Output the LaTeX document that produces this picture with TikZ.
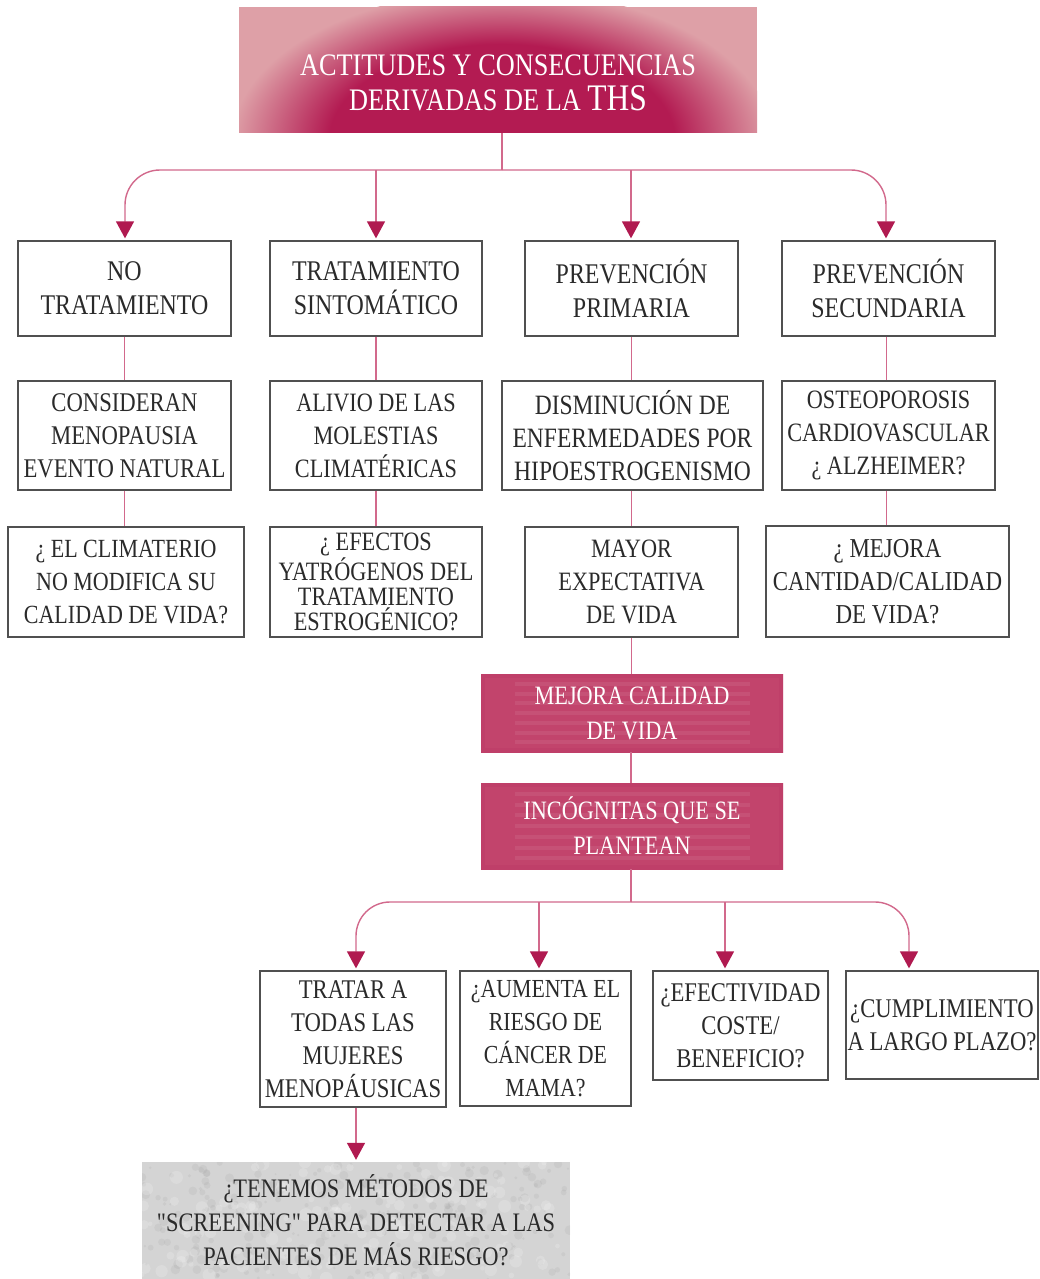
\documentclass[tikz,border=0pt]{standalone}
\usepackage{fontspec}
\setmainfont{Liberation Serif}[FakeStretch=0.84, Ligatures=TeXOff]
\usetikzlibrary{arrows.meta}
\definecolor{mag}{HTML}{B31B52}
\definecolor{pinkout}{HTML}{DEA0A7}
\definecolor{barbase}{HTML}{C2446C}
\definecolor{baredge}{HTML}{D98C9C}
\definecolor{bardark}{HTML}{B52D5C}
\definecolor{connc}{HTML}{D2698C}
\definecolor{arrowc}{HTML}{B01A50}
\definecolor{boxgray}{HTML}{505050}
\definecolor{txtc}{HTML}{2A2A2A}
\definecolor{scrc}{HTML}{D4D4D4}
\pgfdeclareradialshading{titleglow}{\pgfpoint{0bp}{0bp}}{color(0bp)=(mag); color(16bp)=(mag); color(25bp)=(pinkout); color(50bp)=(pinkout)}
\pgfdeclarehorizontalshading{bandshade}{100bp}{color(0bp)=(baredge); color(9bp)=(barbase); color(91bp)=(barbase); color(100bp)=(baredge)}
\newcommand{\fs}[2]{\fontsize{#1}{#2}\selectfont}
\begin{document}
\begin{tikzpicture}[x=1pt,y=-1pt,
  box/.style={draw=boxgray, line width=1.3pt, fill=white, text=txtc, align=center, inner sep=0pt,
    font=\fs{26.5}{33}},
  band/.style={text=white, align=center, inner sep=0pt, minimum width=302pt, font=\fs{26.5}{35}},
  conn/.style={draw=connc, line width=1.4pt},
  arr/.style={-{Triangle[width=18pt,length=17pt,fill=arrowc,color=arrowc]}, shorten >=2pt}
]
\useasboundingbox (0,0) rectangle (1040,1279);
\fill[white] (0,0) rectangle (1040,1279);

% title background
\begin{scope}
  \clip (239,7) rectangle (757,133);
  \fill[pinkout] (239,7) rectangle (757,133);
  \shade[shading=titleglow] (502,140) ellipse [x radius=270, y radius=150];
\end{scope}
\node[minimum width=518pt, minimum height=126pt, inner sep=0pt] (title) at (498,70) {};
\node[text=white, align=center, inner sep=0pt, font=\fs{31.3}{35}] (titletext) at ([yshift=-13pt]title.center)
  {ACTITUDES Y CONSECUENCIAS\\ DERIVADAS DE LA {\fs{37.5}{35}THS}};

% band boxes backgrounds
\foreach \ya/\yb in {674/752, 783/869}{
  \begin{scope}
    \clip (481,\ya) rectangle (783,\yb);
    \shade[shading=bandshade] (481,\ya) rectangle (783,\yb);
    \foreach \k in {1,...,7}{
      \draw[white, opacity=0.07, line width=4pt] (515,{\ya+\k*(\yb-\ya)/8}) -- (750,{\ya+\k*(\yb-\ya)/8});
    }
    \draw[bardark, opacity=0.18, line width=8pt] (481,\ya) rectangle (783,\yb);
  \end{scope}
}

% row 1
\node[box, minimum width=213pt, minimum height=95pt, font=\fs{28.5}{34}] (A1) at (124.5,288.5) {NO\\TRATAMIENTO};
\node[box, minimum width=212pt, minimum height=95pt, font=\fs{28.5}{34}] (B1) at (376,288.5) {TRATAMIENTO\\SINTOMÁTICO};
\node[box, minimum width=213pt, minimum height=95pt, font=\fs{28.5}{34}] (C1) at (631.5,288.5) {PREVENCIÓN\\PRIMARIA};
\node[box, minimum width=213pt, minimum height=95pt, font=\fs{28.5}{34}] (D1) at (888.5,288.5) {PREVENCIÓN\\SECUNDARIA};
% row 2
\node[box, minimum width=213pt, minimum height=109pt, font=\fs{27}{33}] (A2) at (124.5,435.5) {CONSIDERAN\\MENOPAUSIA\\EVENTO NATURAL};
\node[box, minimum width=212pt, minimum height=109pt] (B2) at (376,435.5) {ALIVIO DE LAS\\MOLESTIAS\\CLIMATÉRICAS};
\node[box, minimum width=261pt, minimum height=109pt, font=\fs{28}{33}] (C2) at (632.5,435.5) {DISMINUCIÓN DE\\ENFERMEDADES POR\\HIPOESTROGENISMO};
\node[box, minimum width=213pt, minimum height=109pt] (D2) at (888.5,435.5) {OSTEOPOROSIS\\CARDIOVASCULAR\\¿ ALZHEIMER?};
% row 3
\node[box, minimum width=236pt, minimum height=110pt, font=\fs{26.2}{33}] (A3) at (126,582) {¿ EL CLIMATERIO\\NO MODIFICA SU\\CALIDAD DE VIDA?};
\node[box, minimum width=212pt, minimum height=110pt, font=\fs{26.5}{25}] (B3) at (376,582) {¿ EFECTOS\\YATRÓGENOS DEL\\TRATAMIENTO\\ESTROGÉNICO?};
\node[box, minimum width=213pt, minimum height=110pt] (C3) at (631.5,582) {MAYOR\\EXPECTATIVA\\DE VIDA};
\node[box, minimum width=243pt, minimum height=111pt, font=\fs{27.3}{33}] (D3) at (887.5,581.5) {¿ MEJORA\\CANTIDAD/CALIDAD\\DE VIDA?};

% bands
\node[band, minimum height=78pt] (mejora) at (632,713) {MEJORA CALIDAD\\DE VIDA};
\node[band, minimum height=86pt] (incog) at (632,826) {INCÓGNITAS QUE SE\\PLANTEAN};

% bottom row
\node[box, minimum width=186pt, minimum height=136pt, font=\fs{27}{33}] (E1) at (353,1039) {TRATAR A\\TODAS LAS\\MUJERES\\MENOPÁUSICAS};
\node[box, minimum width=171pt, minimum height=135pt, font=\fs{26}{33}] (E2) at (545.5,1038.5) {¿AUMENTA EL\\RIESGO DE\\CÁNCER DE\\MAMA?};
\node[box, minimum width=175pt, minimum height=109pt, font=\fs{27}{33}] (E3) at (740.5,1025.5) {¿EFECTIVIDAD\\COSTE/\\BENEFICIO?};
\node[box, minimum width=192pt, minimum height=108pt, font=\fs{27}{33}] (E4) at (942,1025) {¿CUMPLIMIENTO\\A LARGO PLAZO?};

% screening background texture
\fill[scrc] (142,1162) rectangle (570,1279);
\begin{scope}
  \clip (142,1162) rectangle (570,1279);
  \pgfmathsetseed{7}
  \foreach \i in {1,...,260}{
    \pgfmathsetmacro{\px}{142+428*rnd}
    \pgfmathsetmacro{\py}{1162+117*rnd}
    \pgfmathsetmacro{\pr}{1+4*rnd}
    \fill[gray, opacity=0.10] (\px,\py) circle [radius=\pr];
  }
  \foreach \i in {1,...,160}{
    \pgfmathsetmacro{\px}{142+428*rnd}
    \pgfmathsetmacro{\py}{1162+117*rnd}
    \pgfmathsetmacro{\pr}{2+5*rnd}
    \fill[white, opacity=0.18] (\px,\py) circle [radius=\pr];
  }
\end{scope}
\node[text=txtc, align=center, inner sep=0pt, minimum width=428pt, minimum height=117pt,
  font=\fs{26.7}{34}] (scr) at (356,1220.5)
  {¿TENEMOS MÉTODOS DE\\"SCREENING" PARA DETECTAR A LAS\\PACIENTES DE MÁS RIESGO?};

% top connectors
\coordinate (bus1) at (502,170);
\draw[conn] ([xshift=4pt]title.south) -- (bus1);
\draw[conn, arr, rounded corners=35pt] (bus1) -| ([xshift=0.5pt]A1.north);
\draw[conn, arr, rounded corners=35pt] (bus1) -| ([xshift=-2.5pt]D1.north);
\draw[conn, arr] (B1.north |- bus1) -- (B1.north);
\draw[conn, arr] ([xshift=-0.5pt]C1.north |- bus1) -- ([xshift=-0.5pt]C1.north);

% vertical links
\draw[conn] (A1.south) -- (A1.south |- A2.north);
\draw[conn] (B1.south) -- (B1.south |- B2.north);
\draw[conn] (C1.south) -- (C1.south |- C2.north);
\draw[conn] ([xshift=-2pt]D1.south) -- ([xshift=-2pt]D1.south |- D2.north);
\draw[conn] (A2.south) -- (A2.south |- A3.north);
\draw[conn] (B2.south) -- (B2.south |- B3.north);
\draw[conn] ([xshift=-1pt]C2.south) -- ([xshift=-1pt]C2.south |- C3.north);
\draw[conn] ([xshift=-2pt]D2.south) -- ([xshift=-2pt]D2.south |- D3.north);
\draw[conn] (C3.south) -- (C3.south |- mejora.north);
\draw[conn] ([xshift=-1pt]mejora.south) -- ([xshift=-1pt]incog.north);

% bottom connectors
\coordinate (bus2) at (631,902);
\draw[conn] ([xshift=-1pt]incog.south) -- (bus2);
\draw[conn, arr, rounded corners=34pt] (bus2) -| ([xshift=3pt]E1.north);
\draw[conn, arr, rounded corners=34pt] (bus2) -| ([xshift=-33pt]E4.north);
\draw[conn, arr] ([xshift=-6.5pt]E2.north |- bus2) -- ([xshift=-6.5pt]E2.north);
\draw[conn, arr] ([xshift=-15.5pt]E3.north |- bus2) -- ([xshift=-15.5pt]E3.north);
\draw[conn, arr] ([xshift=3pt]E1.south) -- (scr.north);
\end{tikzpicture}
\end{document}
